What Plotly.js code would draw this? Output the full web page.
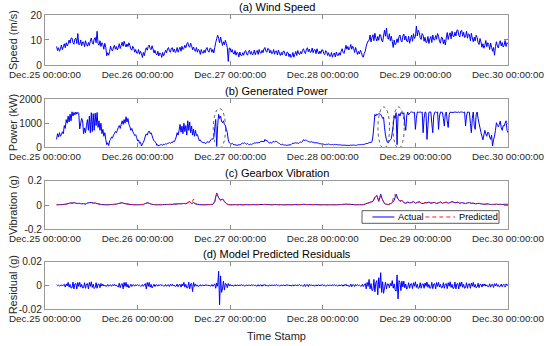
<!DOCTYPE html>
<html>
<head>
<meta charset="utf-8">
<script src="https://cdn.plot.ly/plotly-3.0.1.min.js"></script>
<style>html,body{margin:0;padding:0;background:#fff;}#chart{width:550px;height:346px;}</style>
</head>
<body>
<div id="chart"></div>
<script>
// ---- time base: first sample Dec.25 03:00 ----
const startTime = '2019-12-25T03:00:00';
const stepFast = 15;   // minutes, wind / power / residual
const stepSlow = 30;   // minutes, vibration

// ---- (a) wind speed, m/s (15-min samples, 4 per hour from 03:00) ----
const windSpeed = [
7.4,5.8,6.9,5.5, 6.5,8.0,6.1,7.3, 8.5,6.9,8.9,7.6, 8.5,10.0,8.7,10.7, 10.8,9.0,8.3,10.4,
10.7,8.6,12.6,8.2, 8.2,10.0,7.7,9.2, 9.2,7.3,9.7,8.1, 7.5,9.0,7.8,9.6, 10.8,9.0,8.3,10.4,
11.0,8.9,13.5,8.5, 7.9,9.7,7.4,8.9, 8.2,6.3,8.7,7.1, 3.7,4.9,3.9,5.4, 7.5,6.1,5.6,7.2,
7.9,6.3,7.4,6.0, 7.0,8.5,6.6,7.8, 9.1,7.5,9.5,8.2, 7.2,8.4,7.4,8.9, 7.8,6.4,5.9,7.5,
6.7,5.1,6.2,4.8, 4.7,6.2,4.3,5.5, 4.6,3.0,5.0,3.7, 5.7,6.9,5.9,7.4, 8.0,6.6,6.1,7.7,
6.4,4.8,5.9,4.5, 4.0,5.5,3.6,4.8, 4.6,3.0,5.0,3.7, 4.7,5.9,4.9,6.4, 7.0,5.6,5.1,6.7,
6.9,5.3,6.4,5.0, 5.5,7.0,5.1,6.3, 7.1,5.5,7.5,6.2, 6.7,7.9,6.9,8.4, 9.0,7.6,7.1,8.7,
7.7,6.1,7.2,5.8, 5.5,7.0,5.1,6.3, 5.8,4.2,6.2,4.9, 4.7,5.9,4.9,6.4, 7.0,5.6,5.1,6.7,
6.7,5.1,6.2,4.8, 7.0,9.0,10.5,11.9, 10.7,8.8,11.2,9.6, 7.8,9.3,8.1,9.9, 8.5,7.0,1.4,6.8,
6.7,5.1,6.2,4.8, 4.3,5.8,3.9,5.1, 4.8,3.2,5.2,3.9, 3.7,4.9,3.9,5.4, 5.8,4.4,3.9,5.5,
5.9,4.3,5.4,4.0, 4.5,6.0,4.1,5.3, 5.8,4.2,6.2,4.9, 4.7,5.9,4.9,6.4, 7.0,5.6,5.1,6.7,
6.4,4.8,5.9,4.5, 4.7,6.2,4.3,5.5, 5.6,4.0,6.0,4.7, 3.8,5.0,4.0,5.5, 5.5,4.1,3.6,5.2,
4.9,3.3,4.4,3.0, 3.5,5.0,3.1,4.3, 5.4,3.8,5.8,4.5, 4.2,5.4,4.4,5.9, 6.5,5.1,4.6,6.2,
6.9,5.3,6.4,5.0, 5.3,6.8,4.9,6.1, 6.1,4.5,6.5,5.2, 4.4,5.6,4.6,6.1, 6.0,4.6,4.1,5.7,
5.4,3.8,4.9,3.5, 3.5,5.0,3.1,4.3, 4.8,3.2,5.2,3.9, 3.7,4.9,3.9,5.4, 6.5,5.1,4.6,6.2,
7.9,6.3,7.4,6.0, 6.7,8.2,6.3,7.5, 6.6,5.0,7.0,5.7, 4.2,5.4,4.4,5.9, 5.0,3.6,3.1,4.7,
5.5,7.5,8.8,9.6, 9.8,12.0,9.2,11.0, 12.1,9.7,12.7,10.8, 9.6,11.4,9.9,12.2, 12.0,9.9,9.2,11.6,
13.9,11.5,14.8,11.0, 10.3,12.5,9.7,11.5, 9.4,7.0,10.0,8.1, 8.7,10.5,9.0,11.3, 12.0,9.9,9.2,11.6,
12.4,10.0,11.6,9.5, 9.3,11.5,8.7,10.5, 11.9,9.5,12.5,10.6, 11.3,15.6,11.6,13.9, 13.0,10.9,10.2,12.6,
11.9,9.5,11.1,9.0, 9.2,11.4,8.6,10.4, 11.4,9.0,12.0,10.1, 10.0,11.8,10.3,12.6, 11.5,9.4,8.7,11.1,
10.9,8.5,10.1,8.0, 10.8,13.0,10.2,12.0, 12.9,10.5,13.5,11.6, 11.3,13.1,11.6,13.9, 14.0,11.9,11.2,13.6,
13.9,11.5,13.1,11.0, 11.3,13.5,10.7,12.5, 12.1,9.7,12.7,10.8, 9.3,11.1,9.6,11.9, 11.0,8.9,8.2,10.6,
9.2,7.1,8.5,6.7, 7.9,9.8,7.3,8.9, 8.3,6.2,8.8,7.1, 5.5,7.0,3.9,7.4, 9.3,7.5,6.8,8.9,
9.7,7.6,9.0,7.2, 7.9,9.8,7.4,8.9,
8.5];

// ---- (b) generated power, kW (15-min samples) ----
const genPower = [
320,560,420,600, 450,520,640,560, 900,780,1150,1000, 1300,1050,1380,1100, 1480,1300,1450,1350,
1470,1380,1460,1420, 760,1000,1200,1100, 560,800,600,900, 1150,700,1300,600, 1440,650,1400,700,
1420,900,1450,820, 1100,700,1000,560, 740,450,600,320, 100,180,60,260, 320,420,380,500,
560,650,600,700, 820,900,780,950, 1100,950,1150,1000, 1270,1050,1200,950, 850,700,780,650,
560,480,520,400, 250,300,160,200, 40,120,200,300, 460,550,500,620, 670,560,600,480,
350,260,220,180, 60,100,40,80, 90,110,70,120, 100,140,120,150, 160,190,150,200,
180,250,220,300, 420,600,500,700, 950,620,880,560, 1000,650,900,500, 1100,700,1050,600,
880,500,750,450, 700,480,520,390, 260,300,220,200, 180,200,150,160, 200,230,180,250,
300,350,330,390, 800,1160,40,900, 1370,1200,1300,1090, 1020,1100,950,900, 740,600,300,180,
150,120,160,110, 90,100,80,70, 80,100,90,110, 150,170,140,180, 140,120,150,110,
100,120,110,130, 150,170,160,180, 170,190,180,200, 250,220,240,210, 320,260,280,220,
180,170,190,160, 220,240,200,250, 230,200,170,150, 110,100,120,90, 80,90,70,70,
80,90,85,100, 140,160,150,170, 180,160,170,150, 190,210,200,230, 310,260,300,280,
250,230,220,200, 230,200,210,180, 170,190,160,180, 150,130,140,120, 110,120,105,100,
120,110,125,110, 100,95,105,90, 110,100,105,100, 90,85,95,80, 70,80,75,80,
70,65,75,60, 70,80,75,80, 80,75,70,70, 90,95,100,100, 100,105,110,110,
130,150,140,160, 180,200,190,220, 460,900,1370,1300, 1380,1350,1400,1390, 1370,1300,1200,1250,
810,500,300,200, 180,250,300,350, 600,900,1300,1200, 1440,100,1300,1400, 1300,1450,1420,1380,
1440,1000,700,1300, 1470,1350,1420,1460, 1470,1460,1440,1460, 740,1200,1470,1460, 1460,1470,1450,1470,
600,1200,1470,1450, 320,900,1460,1470, 1470,1000,600,1300, 1460,1470,1450,1470, 740,1300,1470,1460,
1460,1200,880,1400, 1470,1100,820,1350, 1470,1450,1460,1440, 1470,1460,1470,1450, 1460,1470,1450,1470,
1470,1460,1450,1470, 880,1300,1470,1460, 1460,1000,600,1200, 1470,900,740,1350, 1470,1200,1000,800,
600,450,300,500, 700,550,450,620, 600,420,320,500, 40,300,460,700, 1020,900,850,950,
1090,800,700,900, 880,1000,1100,700,
600];

// ---- (c) gearbox vibration, g (30-min samples) ----
const vibActual = [
.002,.004, .003,.004, .005,.008, .012,.018, .015,.02, .016,.012, .014,.01, .012,.008, .016,.02, .022,.015,
.018,.012, .008,.005, .004,.003, .003,.002, .004,.005, .006,.008, .012,.016, .02,.014, .01,.008, .006,.004,
.003,.003, .002,.003, .004,.006, .012,.02, .014,.008, .005,.003, .002,.003, .003,.004, .004,.005, .005,.006,
.006,.008, .008,.01, .01,.012, .014,.01, .02,.03, .012,.02, .01,.006, .004,.003, .003,.002, .003,.004,
.005,.006, .03,.1, .06,.04, .05,.03, .012,.004, .003,.002, .003,.004, .002,.003, .003,.002, .004,.003,
.003,.004, .004,.003, .003,.004, .005,.004, .006,.004, .004,.003, .003,.004, .004,.003, .003,.002, .002,.003,
.003,.002, .003,.004, .004,.003, .004,.005, .006,.005, .004,.004, .003,.004, .004,.003, .003,.002, .003,.002,
.002,.003, .002,.002, .003,.002, .003,.004, .005,.006, .008,.006, .006,.005, .004,.003, .003,.003, .003,.004,
.008,.015, .02,.025, .03,.06, .08,.03, .09,.04, .012,.006, .004,.01, .02,.04, .09,.05, .03,.04,
.02,.015, .025,.018, .02,.03, .015,.022, .028,.016, .012,.02, .018,.025, .015,.02, .022,.012, .018,.026,
.015,.02, .024,.016, .02,.03, .022,.018, .025,.015, .02,.016, .012,.018, .02,.014, .016,.01, .012,.015,
.01,.008, .006,.01, .008,.005, .004,.006, .008,.005, .006,.004, .007,.005,
.006];

const vibPredicted = [
.003,.003, .004,.004, .006,.009, .011,.016, .017,.019, .014,.013, .015,.009, .011,.009, .017,.019, .02,.016,
.017,.013, .009,.005, .004,.003, .003,.003, .004,.005, .006,.009, .011,.017, .018,.015, .011,.008, .006,.005,
.003,.003, .003,.003, .005,.006, .013,.018, .015,.008, .005,.004, .003,.003, .003,.004, .004,.005, .005,.006,
.007,.008, .009,.01, .011,.011, .013,.011, .018,.028, .014,.05, .009,.006, .004,.003, .003,.003, .003,.004,
.005,.007, .028,.095, .065,.038, .055,.028, .011,.005, .003,.003, .003,.004, .003,.003, .003,.003, .004,.003,
.003,.004, .004,.003, .004,.004, .005,.004, .005,.004, .004,.003, .003,.004, .004,.003, .003,.003, .003,.003,
.003,.003, .003,.004, .004,.003, .004,.005, .006,.005, .004,.004, .003,.004, .004,.003, .003,.003, .003,.003,
.003,.003, .003,.003, .003,.003, .003,.004, .005,.006, .007,.006, .006,.005, .004,.003, .003,.003, .003,.004,
.009,.014, .018,.027, .032,.07, .075,.035, .08,.045, .014,.007, .005,.012, .025,.085, .07,.045, .035,.038,
.022,.014, .024,.02, .022,.028, .016,.02, .026,.018, .013,.021, .017,.024, .016,.019, .02,.014, .019,.024,
.016,.021, .022,.017, .021,.028, .02,.019, .024,.016, .019,.017, .013,.017, .019,.015, .015,.011, .013,.014,
.011,.008, .007,.009, .008,.006, .005,.006, .007,.006, .006,.005, .006,.006,
.006];

// ---- (d) model predicted residuals, g (15-min samples) ----
const residuals = [
.0005,-.0003,.0002,-.0005, -.0004,.0005,-.0006,.0003, .0008,-.0015,.0012,-.0005, .0025,-.0015,.0008,-.0022, -.0021,.0027,-.003,.0012,
.0015,-.003,.0024,-.0009, .0025,-.0015,.0008,-.0022, -.0018,.0022,-.0025,.001, .0015,-.003,.0024,-.0009, .003,-.0018,.0009,-.0027,
-.0018,.0022,-.0025,.001, .001,-.002,.0016,-.0006, .001,-.0006,.0003,-.0009, -.0006,.0007,-.0008,.0003, .0004,-.0008,.0006,-.0002,
.001,-.0006,.0003,-.0009, -.0014,.0018,-.002,.0008, .0015,-.003,.0024,-.0009, .0025,-.0015,.0008,-.0022, -.0007,.0009,-.001,.0004,
.0004,-.0007,.0006,-.0002, .0007,-.0004,.0002,-.0006, -.0006,.0007,-.0008,.0003, .0015,-.003,.0024,-.0009, .0025,-.0015,.0008,-.0022,
-.0007,.0009,-.001,.0004, .0004,-.0007,.0006,-.0002, .0007,-.0004,.0002,-.0006, -.0006,.0007,-.0008,.0003, .0005,-.001,.0008,-.0003,
.001,-.0006,.0003,-.0009, -.0008,.0011,-.0012,.0005, .0008,-.0015,.0012,-.0005, .0025,-.0015,.0008,-.0022, -.0021,.0027,-.003,.0012,
.0015,-.0053,.0024,-.0009, .0012,-.0007,.0004,-.0011, -.0005,.0006,-.0007,.0003, .0003,-.0006,.0005,-.0002, .0006,-.0004,.0002,-.0005,
-.0006,.0007,-.0008,.0003, .0013,-.0025,.002,-.0008, .012,-.0165,.008,-.006, -.003,.0036,-.004,.0016, .001,-.002,.0016,-.0006,
.0008,-.0005,.0002,-.0007, -.0004,.0005,-.0006,.0003, .0003,-.0006,.0005,-.0002, .0006,-.0004,.0002,-.0005, -.0004,.0005,-.0006,.0003,
.0003,-.0006,.0005,-.0002, .0006,-.0004,.0002,-.0005, -.0005,.0006,-.0007,.0003, .0004,-.0008,.0006,-.0002, .0008,-.0005,.0002,-.0007,
-.0004,.0005,-.0006,.0003, .0003,-.0006,.0005,-.0002, .0006,-.0004,.0002,-.0005, -.0004,.0005,-.0006,.0003, .0003,-.0006,.0005,-.0002,
.0006,-.0004,.0002,-.0005, -.0004,.0005,-.0006,.0003, .0003,-.0006,.0005,-.0002, .0006,-.0004,.0002,-.0005, -.0007,.0009,-.001,.0004,
.0005,-.001,.0008,-.0003, .0006,-.0004,.0002,-.0005, -.0004,.0005,-.0006,.0003, .0003,-.0006,.0005,-.0002, .0006,-.0004,.0002,-.0005,
-.0004,.0005,-.0006,.0003, .0003,-.0006,.0005,-.0002, .0006,-.0004,.0002,-.0005, -.0004,.0005,-.0006,.0003, .0004,-.0008,.0006,-.0002,
.001,-.0006,.0003,-.0009, -.0008,.0011,-.0012,.0005, .0005,-.001,.0008,-.0003, .0007,-.0004,.0002,-.0006, -.0007,.0009,-.001,.0004,
.0015,-.003,.0024,-.0009, .005,-.003,.0015,-.0045, -.0039,.005,-.0055,.0022, .004,-.008,.0064,-.0024, .0107,-.006,.003,-.0067,
-.0021,.0027,-.003,.0012, .001,-.002,.0016,-.0006, .004,-.0024,.0012,-.0036, -.005,.0088,-.0115,.004, .0023,-.0045,.0036,-.0014,
.0035,-.0021,.0011,-.0032, -.0018,.0022,-.0025,.001, .0014,-.0028,.0022,-.0008, .003,-.0018,.0009,-.0027, -.0018,.0022,-.0025,.001,
.0013,-.0025,.002,-.0008, .0028,-.0017,.0008,-.0025, -.002,.0025,-.0028,.0011, .0015,-.003,.0024,-.0009, .0025,-.0015,.0008,-.0022,
-.0018,.0022,-.0025,.001, .0014,-.0028,.0022,-.0008, .003,-.0018,.0009,-.0027, -.0021,.0027,-.003,.0012, .0015,-.003,.0024,-.0009,
.0028,-.0017,.0008,-.0025, -.0018,.0022,-.0025,.001, .0013,-.0025,.002,-.0008, .0025,-.0015,.0008,-.0022, -.0014,.0018,-.002,.0008,
.0008,-.0015,.0012,-.0005, .0012,-.0007,.0004,-.0011, -.0011,.0013,-.0015,.0006, .0009,-.0018,.0014,-.0005, .0015,-.0009,.0005,-.0014,
-.0008,.0011,-.0012,.0005, .0008,-.0015,.0012,-.0005,
.001];

// ---- labels ----
const panelTitles = ['(a) Wind Speed', '(b) Generated Power', '(c) Gearbox Vibration', '(d) Model Predicted Residuals'];
const yTitles = ['Speed (m/s)', 'Power (kW)', 'Vibration (g)', 'Residual (g)'];
const yTicks = [[0, 10, 20], [0, 1000, 2000], [-0.2, 0, 0.2], [-0.02, 0, 0.02]];
const yTickText = [['0', '10', '20'], ['0', '1000', '2000'], ['-0.2', '0', '0.2'], ['-0.02', '0', '0.02']];
const legendNames = ['Actual', 'Predicted'];
const xAxisTitle = 'Time Stamp';
// highlighted regions in (b): [start, end] in hours after Dec.25 00:00, [low, high] kW
const ellipseHours = [[43.6, 46.8], [86.3, 89.3], [90.2, 93.1]];
const ellipseKW = [[-60, 1620], [-60, 1680], [-60, 1680]];

// ---- build ----
const t0 = new Date('2019-12-25T00:00:00Z').getTime();
const tStart = new Date(startTime + 'Z').getTime();
function fmt(ms) { return new Date(ms).toISOString().slice(0, 19).replace('T', ' '); }
function timesFor(arr, stepMin) { return arr.map((_, i) => fmt(tStart + i * stepMin * 60000)); }

const FONT = 'Liberation Sans, Arial, sans-serif';
const BLUE = '#0000ff';
const RED = '#ff2020';
const ln = (c, extra) => Object.assign({color: c, width: 1, simplify: false}, extra || {});
const traces = [
  {x: timesFor(windSpeed, stepFast), y: windSpeed, xaxis: 'x', yaxis: 'y', type: 'scatter', mode: 'lines', line: ln(BLUE), showlegend: false},
  {x: timesFor(genPower, stepFast), y: genPower, xaxis: 'x2', yaxis: 'y2', type: 'scatter', mode: 'lines', line: ln(BLUE), showlegend: false},
  {x: timesFor(vibActual, stepSlow), y: vibActual, xaxis: 'x3', yaxis: 'y3', type: 'scatter', mode: 'lines', name: legendNames[0], line: ln(BLUE), showlegend: false},
  {x: timesFor(vibPredicted, stepSlow), y: vibPredicted, xaxis: 'x3', yaxis: 'y3', type: 'scatter', mode: 'lines', name: legendNames[1], line: ln(RED, {dash: '4px,3px'}), showlegend: false},
  {x: timesFor(residuals, stepFast), y: residuals, xaxis: 'x4', yaxis: 'y4', type: 'scatter', mode: 'lines', line: ln(BLUE), showlegend: false}
];

const domains = [[0.830, 1.0], [0.551, 0.713], [0.271, 0.436], [0.0, 0.161]];
const xRange = [fmt(t0), fmt(t0 + 5 * 86400000)];
const layout = {
  width: 550, height: 346,
  margin: {l: 45, r: 42, t: 15, b: 37},
  paper_bgcolor: '#fff', plot_bgcolor: '#fff',
  font: {family: FONT, size: 10, color: '#262626'},
  showlegend: false,
  annotations: [], shapes: []
};
for (let k = 0; k < 4; k++) {
  const s = k === 0 ? '' : String(k + 1);
  layout['xaxis' + s] = {
    anchor: 'y' + s, domain: [0, 1], type: 'date', range: xRange,
    tick0: fmt(t0), dtick: 86400000, tickformat: '%b.%d %H:%M:%S',
    ticks: 'inside', ticklen: 4, tickcolor: '#888', mirror: 'ticks', showline: true, linecolor: '#999', linewidth: 1,
    showgrid: false, zeroline: false, tickfont: {size: 9.8, family: FONT, color: '#262626'},
    matches: k === 0 ? undefined : 'x',
    title: k === 3 ? {text: xAxisTitle, font: {size: 11, family: FONT, color: '#262626'}, standoff: 9} : undefined
  };
  layout['yaxis' + s] = {
    anchor: 'x' + s, domain: domains[k], range: [yTicks[k][0], yTicks[k][2]],
    tickvals: yTicks[k], ticktext: yTickText[k],
    ticks: 'inside', ticklen: 4, tickcolor: '#888', mirror: 'ticks', showline: true, linecolor: '#999', linewidth: 1,
    showgrid: false, zeroline: false, tickfont: {size: 10.2, family: FONT, color: '#262626'}
  };
  layout.annotations.push({
    text: panelTitles[k], xref: 'paper', yref: 'paper', x: 0.5, xanchor: 'center', y: domains[k][1], yanchor: 'bottom',
    showarrow: false, font: {size: 11, family: FONT, color: '#000'}
  });
  layout.annotations.push({
    text: yTitles[k], xref: 'paper', yref: 'paper', x: 0, xanchor: 'center', xshift: -32,
    y: (domains[k][0] + domains[k][1]) / 2, yanchor: 'middle',
    textangle: -90, showarrow: false, font: {size: 11, family: FONT, color: '#262626'}
  });
}
ellipseHours.forEach((h, i) => {
  layout.shapes.push({
    type: 'circle', xref: 'x2', yref: 'y2',
    x0: fmt(t0 + h[0] * 3600000), x1: fmt(t0 + h[1] * 3600000),
    y0: ellipseKW[i][0], y1: ellipseKW[i][1],
    line: {color: '#333', width: 0.8, dash: 'dot'}
  });
});

// ---- legend of panel (c), drawn as a box with two key lines ----
const lgBox = {x0: 0.6847, x1: 0.9806, y0: 0.2915, y1: 0.3344};
const lgY = (lgBox.y0 + lgBox.y1) / 2;
layout.shapes.push({type: 'rect', xref: 'paper', yref: 'paper', x0: lgBox.x0, x1: lgBox.x1, y0: lgBox.y0, y1: lgBox.y1,
  fillcolor: '#fff', line: {color: '#333', width: 0.8}, layer: 'above'});
layout.shapes.push({type: 'line', xref: 'paper', yref: 'paper', x0: 0.7071, x1: 0.7546, y0: lgY, y1: lgY,
  line: {color: BLUE, width: 1}, layer: 'above'});
layout.shapes.push({type: 'line', xref: 'paper', yref: 'paper', x0: 0.8214, x1: 0.8855, y0: lgY, y1: lgY,
  line: {color: RED, width: 1, dash: '4px,3px'}, layer: 'above'});
layout.annotations.push({text: legendNames[0], xref: 'paper', yref: 'paper', x: 0.7596, xanchor: 'left', y: lgY, yanchor: 'middle',
  showarrow: false, font: {size: 9.2, family: FONT, color: '#000'}, borderpad: 0});
layout.annotations.push({text: legendNames[1], xref: 'paper', yref: 'paper', x: 0.8914, xanchor: 'left', y: lgY, yanchor: 'middle',
  showarrow: false, font: {size: 9.2, family: FONT, color: '#000'}, borderpad: 0});

Plotly.newPlot('chart', traces, layout, {staticPlot: true, displayModeBar: false});
</script>
</body>
</html>
